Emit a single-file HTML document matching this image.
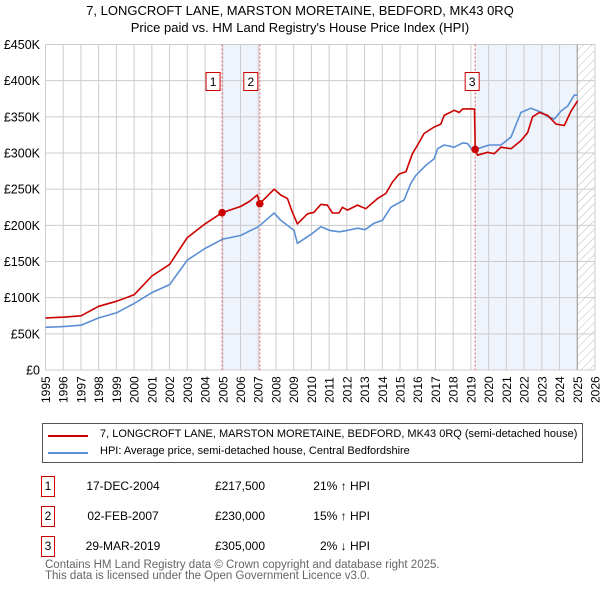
<!DOCTYPE html>
<html><head><meta charset="utf-8"><style>
body{margin:0;background:#fff;font-family:"Liberation Sans","DejaVu Sans",sans-serif;}
#wrap{position:relative;width:600px;height:590px;overflow:hidden;}
.t{position:absolute;font-size:12px;color:#000;white-space:nowrap;}
</style></head><body>
<div id="wrap">
<div class="t" style="left:0;width:600px;text-align:center;top:3px;font-size:13px;">7, LONGCROFT LANE, MARSTON MORETAINE, BEDFORD, MK43 0RQ</div>
<div class="t" style="left:0;width:600px;text-align:center;top:20px;font-size:13px;">Price paid vs. HM Land Registry's House Price Index (HPI)</div>
<svg id="chart" width="600" height="415" style="position:absolute;left:0;top:0;">
<defs><pattern id="hatch" width="6" height="6" patternUnits="userSpaceOnUse" patternTransform="rotate(45)"><line x1="0" y1="0" x2="0" y2="6" stroke="#bbb" stroke-width="1"/></pattern></defs>
</svg>
<div style="position:absolute;left:42px;top:423px;width:539px;height:38px;border:1px solid #555;">
<div style="position:absolute;left:5px;top:4px;"><span style="position:absolute;left:0;top:7px;width:40px;height:2px;background:#cc0000;"></span><span class="t" style="left:52px;top:0;font-size:11px;">7, LONGCROFT LANE, MARSTON MORETAINE, BEDFORD, MK43 0RQ (semi-detached house)</span></div>
<div style="position:absolute;left:5px;top:21px;"><span style="position:absolute;left:0;top:7px;width:40px;height:2px;background:#5b8fd4;"></span><span class="t" style="left:52px;top:0;font-size:11px;">HPI: Average price, semi-detached house, Central Bedfordshire</span></div>
</div>
<div id="table"></div>
<div class="t" style="left:45px;top:560px;color:#666;font-size:11.5px;line-height:11px;">Contains HM Land Registry data © Crown copyright and database right 2025.<br>This data is licensed under the Open Government Licence v3.0.</div>
</div>
<script>
const hpiYears=[1995,1996,1997,1998,1999,2000,2001,2002,2003,2004,2005,2006,2007,2007.9,2008.27,2009.02,2009.21,2010.06,2010.53,2011.04,2011.56,2012.03,2012.6,2013.03,2013.54,2014.01,2014.48,2015.23,2015.61,2015.89,2016.46,2016.93,2017.12,2017.49,2018.06,2018.53,2018.81,2019.09,2019.37,2020.03,2020.69,2021.26,2021.82,2022.39,2023.01,2023.33,2023.71,2024.08,2024.46,2024.83,2025.02];
const hpiValues=[59,60,62,72,79,92,107,118,152,168,181,186,198,217,207,193,175,189,198,193,191,193,196,194,203,207,225,235,258,269,283,292,306,311,308,314,313,304,306,311,311,322,356,362,356,350,347,358,365,380,380];
const propYears=[1995,1996,1997,1998,1999,2000,2001,2002,2003,2004,2004.96,2006,2006.5,2006.95,2007.09,2007.9,2008.27,2008.65,2008.93,2009.21,2009.78,2010.15,2010.53,2010.9,2011.19,2011.56,2011.75,2012.03,2012.6,2013.07,2013.73,2014.2,2014.58,2014.95,2015.33,2015.7,2015.99,2016.36,2016.93,2017.3,2017.49,2018.06,2018.34,2018.53,2019.2,2019.24,2019.37,2019.94,2020.32,2020.69,2021.26,2021.82,2022.2,2022.48,2022.86,2023.33,2023.8,2024.27,2024.65,2025.02];
const propValues=[72,73,75,88,95,104,130,146,183,202,217.5,226,233,242,230,250,242,237,218,202,216,218,229,228,217,217,225,221,228,223,237,244,260,271,274,299,311,327,336,340,352,359,356,361,361,305,297,301,299,308,306,317,328,350,356,352,340,338,358,372];
const saleLabels=["1","2","3"];
const saleYears=[2004.96,2007.09,2019.24];
const salePrices=[217.5,230,305];
const saleDates=["17-DEC-2004","02-FEB-2007","29-MAR-2019"];
const salePriceText=["£217,500","£230,000","£305,000"];
const saleHpiText=["21% ↑ HPI","15% ↑ HPI"," 2% ↓ HPI"];
const yTicks=[0,50,100,150,200,250,300,350,400,450];
const yTickLabels=["£0","£50K","£100K","£150K","£200K","£250K","£300K","£350K","£400K","£450K"];
const xTicks=[1995,1996,1997,1998,1999,2000,2001,2002,2003,2004,2005,2006,2007,2008,2009,2010,2011,2012,2013,2014,2015,2016,2017,2018,2019,2020,2021,2022,2023,2024,2025,2026];
const dataEnd=2025.0;

const X0=45.5,X1=595,Y0=370,Y1=44.5;
const xs=y=>X0+(y-1995)/(2026-1995)*(X1-X0);
const ys=v=>Y0-v/450*(Y0-Y1);
const svg=document.getElementById('chart');
const NS='http://www.w3.org/2000/svg';
function mk(tag,at,parent){const e=document.createElementNS(NS,tag);for(const k in at)e.setAttribute(k,at[k]);(parent||svg).appendChild(e);return e;}
let r=mk('rect',{x:xs(saleYears[0]),y:Y1,width:xs(saleYears[1])-xs(saleYears[0]),height:Y0-Y1,fill:'#eef3fc'});


r=mk('rect',{x:xs(saleYears[2]),y:Y1,width:xs(dataEnd)-xs(saleYears[2]),height:Y0-Y1,fill:'#eef3fc'});


r=mk('rect',{x:xs(dataEnd),y:Y1,width:X1-xs(dataEnd),height:Y0-Y1,fill:'url(#hatch)'});


xTicks.forEach((t,i)=>{
 const l=mk('line',{x1:xs(t),x2:xs(t),y1:Y1,y2:Y0,stroke:'#ccc','stroke-width':1});
 
 
 const tx=mk('text',{x:0,y:0,transform:`translate(${xs(t)+4.5},403) rotate(-90)`,'font-size':12,fill:'#000','font-family':'Liberation Sans, sans-serif'});
 tx.textContent=String(t);
 
 
});
yTicks.forEach((t,i)=>{
 const l=mk('line',{x1:X0,x2:X1,y1:ys(t),y2:ys(t),stroke:'#ccc','stroke-width':1});
 
 
 const tx=mk('text',{x:40,y:ys(t)+4.5,'text-anchor':'end','font-size':12.5,fill:'#000','font-family':'Liberation Sans, sans-serif'});
 tx.textContent=yTickLabels[i];
 
 
});
let ln=mk('line',{x1:xs(dataEnd),x2:xs(dataEnd),y1:Y1,y2:Y0,stroke:'#999','stroke-width':1});


saleYears.forEach((s,i)=>{
 const l=mk('line',{x1:xs(s),x2:xs(s),y1:Y1,y2:Y0,stroke:'#e06060','stroke-width':1,'stroke-dasharray':'2,2'});
 
 
});
function path(xsA,vA){return xsA.map((y,i)=>(i?'L':'M')+xs(y).toFixed(1)+','+ys(vA[i]).toFixed(1)).join('');}
let p=mk('path',{d:path(hpiYears,hpiValues),fill:'none',stroke:'#5b8fd4','stroke-width':1.6,'stroke-linejoin':'round'});


p=mk('path',{d:path(propYears,propValues),fill:'none',stroke:'#cc0000','stroke-width':1.6,'stroke-linejoin':'round'});


saleYears.forEach((s,i)=>{
 const c=mk('circle',{cx:xs(s),cy:ys(salePrices[i]),r:3.8,fill:'#cc0000'});
 
 
 const g=mk('g',{});
 
 
 mk('rect',{x:xs(s)-(i==2?10:16),y:72.5,width:14,height:18,fill:'#fff',stroke:'#cc0000','stroke-width':1},g);
 const tx=mk('text',{x:xs(s)-(i==2?3:9),y:86,'text-anchor':'middle','font-size':12,'font-family':'Liberation Sans, sans-serif'},g);
 tx.textContent=saleLabels[i];
});
const tbl=document.getElementById('table');
saleLabels.forEach((lab,i)=>{
 const top=476+i*30;
 const row=document.createElement('div');
 
 
 row.innerHTML=`<div style="position:absolute;left:41px;top:${top}px;width:12px;height:19px;border:1px solid #cc0000;font-size:12px;text-align:center;line-height:19px;">${lab}</div>
<div class="t" style="left:75px;width:96px;text-align:center;top:${top+3}px;">${saleDates[i]}</div>
<div class="t" style="left:170px;width:95px;text-align:right;top:${top+3}px;">${salePriceText[i]}</div>
<div class="t" style="left:280px;width:90px;text-align:right;top:${top+3}px;white-space:pre;">${saleHpiText[i]}</div>`;
 tbl.appendChild(row);
});
</script>
</body></html>
